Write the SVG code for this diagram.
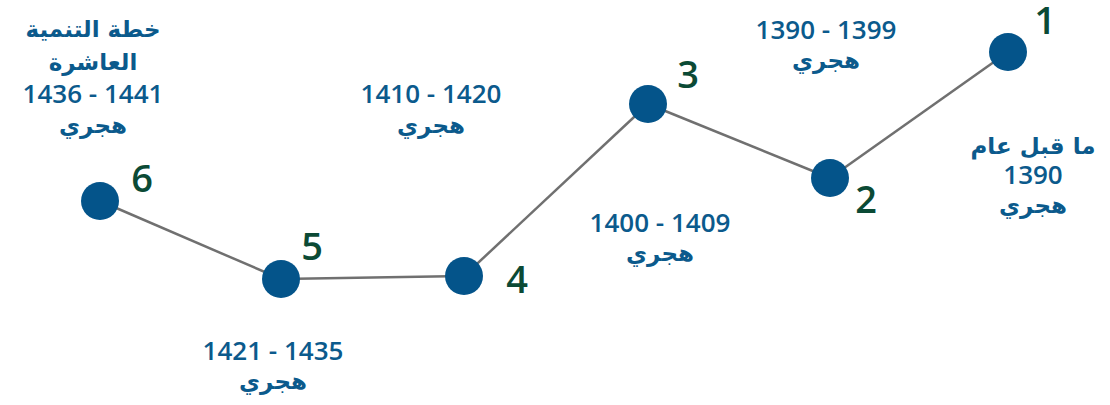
<svg xmlns="http://www.w3.org/2000/svg" width="1110" height="405" viewBox="0 0 1110 405">
<style>
.lbl{font-family:"Open Sans","DejaVu Sans",sans-serif;font-weight:600;font-size:26px;fill:#0b5a8c;text-anchor:middle}
.ar{font-family:"DejaVu Sans","Open Sans",sans-serif;font-weight:600;font-size:23px;fill:#0b5a8c;text-anchor:middle}
.num{font-family:"Open Sans","DejaVu Sans",sans-serif;font-weight:600;font-size:38px;fill:#0b4a35;text-anchor:middle}
.dot{fill:#04548a}
.edge{stroke:#707070;stroke-width:2.5;fill:none}
</style>
<rect width="1110" height="405" fill="#ffffff"/>
<g id="connectors">
<line class="edge" x1="1008" y1="52" x2="830" y2="178"/>
<line class="edge" x1="830" y1="178" x2="648" y2="104"/>
<line class="edge" x1="648" y1="104" x2="464" y2="276"/>
<line class="edge" x1="464" y1="276" x2="281" y2="279"/>
<line class="edge" x1="281" y1="279" x2="100" y2="201"/>
</g>
<g id="node1">
<circle class="dot" cx="1008" cy="52" r="19"/>
<text class="num" x="1045" y="34">1</text>
<text class="ar" x="1033" y="154">ما قبل عام</text>
<text class="lbl" x="1033" y="184">1390</text>
<text class="ar" x="1033" y="213">هجري</text>
</g>
<g id="node2">
<circle class="dot" cx="830" cy="178" r="19"/>
<text class="num" x="866" y="213">2</text>
<text class="lbl" x="826" y="39">1390 - 1399</text>
<text class="ar" x="826" y="68">هجري</text>
</g>
<g id="node3">
<circle class="dot" cx="648" cy="104" r="19"/>
<text class="num" x="688" y="88">3</text>
<text class="lbl" x="660" y="232">1400 - 1409</text>
<text class="ar" x="660" y="261">هجري</text>
</g>
<g id="node4">
<circle class="dot" cx="464" cy="276" r="19"/>
<text class="num" x="517" y="293">4</text>
<text class="lbl" x="431" y="103">1410 - 1420</text>
<text class="ar" x="431" y="133">هجري</text>
</g>
<g id="node5">
<circle class="dot" cx="281" cy="279" r="19"/>
<text class="num" x="312" y="260">5</text>
<text class="lbl" x="273" y="360">1421 - 1435</text>
<text class="ar" x="273" y="389">هجري</text>
</g>
<g id="node6">
<circle class="dot" cx="100" cy="201" r="19"/>
<text class="num" x="142" y="192">6</text>
<text class="ar" x="93" y="37">خطة التنمية</text>
<text class="ar" x="93" y="70">العاشرة</text>
<text class="lbl" x="93" y="103">1436 - 1441</text>
<text class="ar" x="93" y="133">هجري</text>
</g>
</svg>
